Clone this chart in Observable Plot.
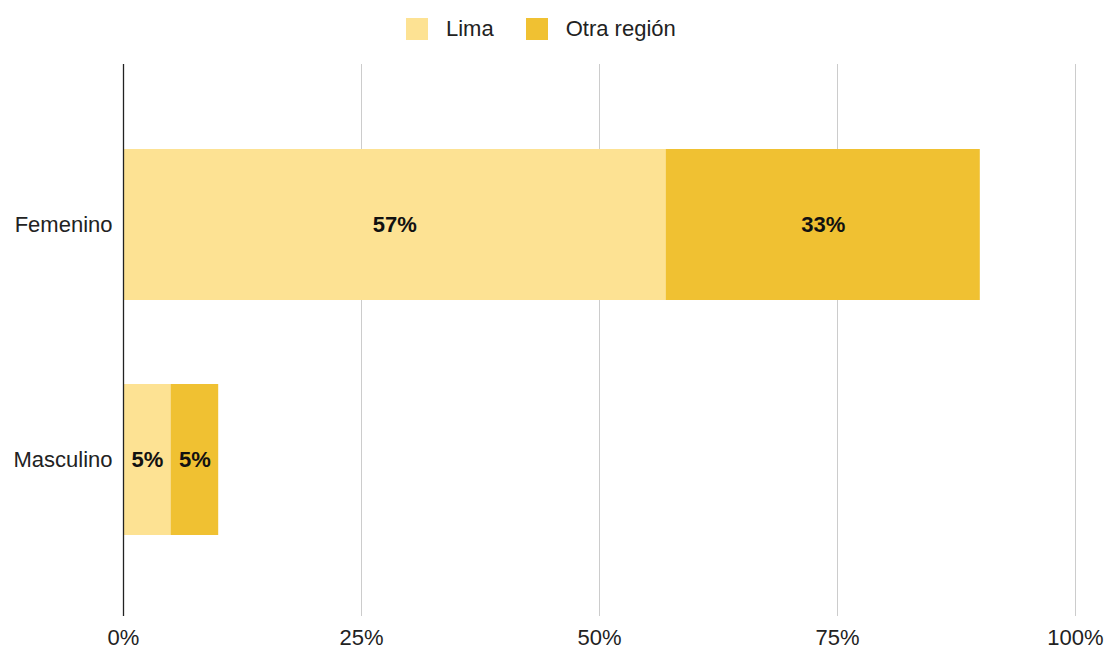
<!DOCTYPE html>
<html>
<head>
<meta charset="utf-8">
<script src="https://cdn.jsdelivr.net/npm/d3@7"></script>
<script src="https://cdn.jsdelivr.net/npm/@observablehq/plot@0.6"></script>
<style>
  html, body { margin: 0; padding: 0; background: #fff; }
  body { width: 1109px; height: 650px; overflow: hidden; font-family: "Liberation Sans", Arial, sans-serif; }
  #legend { height: 50px; display: flex; justify-content: flex-start; align-items: center; font-size: 22px; color: #222; padding-left: 406px; box-sizing: border-box; padding-top: 8px; }
  .item { display: flex; align-items: center; margin-right: 32px; }
  .sw { width: 22px; height: 22px; margin-right: 18px; }
</style>
</head>
<body>
<div id="legend"></div>
<div id="chart"></div>
<script>
const categories = ["Femenino", "Masculino"];
const seriesNames = ["Lima", "Otra región"];
const limaValues = [57, 5];
const otraValues = [33, 5];
const xTicks = [0, 25, 50, 75, 100];
const colors = ["#fde293", "#f0c132"];

const rows = [];
categories.forEach((c, i) => {
  rows.push({sexo: c, region: seriesNames[0], value: limaValues[i]});
  rows.push({sexo: c, region: seriesNames[1], value: otraValues[i]});
});

const legend = document.getElementById("legend");
seriesNames.forEach((s, i) => {
  const it = document.createElement("div");
  it.className = "item";
  it.innerHTML = `<span class="sw" style="background:${colors[i]}"></span><span>${s}</span>`;
  legend.appendChild(it);
});

const chart = Plot.plot({
  width: 1109,
  height: 600,
  marginLeft: 123,
  marginRight: 34,
  marginTop: 14,
  marginBottom: 34,
  style: {fontFamily: "Liberation Sans, Arial, sans-serif", fontSize: "22px", color: "#222", background: "#fff"},
  x: {domain: [0, 100], ticks: xTicks, tickFormat: d => d + "%", tickSize: 0, tickPadding: 13, label: null},
  y: {domain: categories, padding: 0.356, insetTop: 0, insetBottom: -4, tickSize: 0, tickPadding: 11, label: null},
  color: {domain: seriesNames, range: colors},
  marks: [
    Plot.ruleX(xTicks.filter(d => d > 0), {stroke: "#cccccc", strokeWidth: 1}),
    Plot.barX(rows, Plot.stackX({x: "value", y: "sexo", fill: "region", z: "region", order: seriesNames})),
    Plot.text(rows, Plot.stackX({x: "value", y: "sexo", z: "region", order: seriesNames, text: d => d.value + "%", fontWeight: "bold", fontSize: 22, fill: "#111"})),
    Plot.ruleX([0], {stroke: "#222", strokeWidth: 1.3})
  ]
});
document.getElementById("chart").appendChild(chart);
</script>
</body>
</html>
